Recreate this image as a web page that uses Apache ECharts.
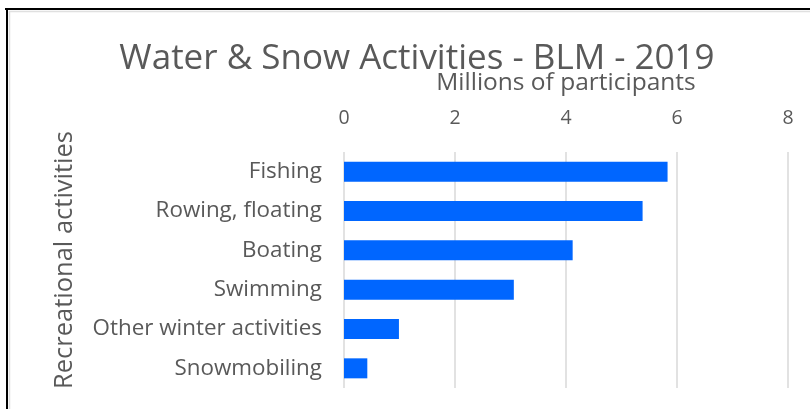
<!DOCTYPE html>
<html>
<head>
<meta charset="utf-8">
<script src="https://cdn.jsdelivr.net/npm/echarts@6/dist/echarts.min.js"></script>
<style>
  html, body { margin: 0; padding: 0; background: #ffffff; }
  #chart { width: 810px; height: 409px; }
</style>
</head>
<body>
<div id="chart"></div>
<script>
const categories = ["Fishing", "Rowing, floating", "Boating", "Swimming", "Other winter activities", "Snowmobiling"];
const participants = [5.83, 5.38, 4.12, 3.06, 0.99, 0.42];
const xTicks = { min: 0, max: 8, interval: 2 };
const titleText = "Water & Snow Activities - BLM - 2019";
const xAxisName = "Millions of participants";
const yAxisName = "Recreational activities";

const FONT = "Open Sans";
const GRAY = "#595959";

const chart = echarts.init(document.getElementById('chart'), null, { renderer: 'canvas' });
chart.setOption({
  backgroundColor: '#ffffff',
  animation: false,
  title: {
    text: titleText,
    left: 412,
    textAlign: 'center',
    top: 37,
    textStyle: { fontFamily: FONT, fontSize: 35, fontWeight: 'normal', color: GRAY }
  },
  graphic: [
    { type: 'line', shape: { x1: 5, y1: 9, x2: 810, y2: 9 }, style: { stroke: '#000000', lineWidth: 2 } },
    { type: 'line', shape: { x1: 7, y1: 8, x2: 7, y2: 409 }, style: { stroke: '#000000', lineWidth: 2 } },
    { type: 'line', shape: { x1: 9, y1: 11.5, x2: 810, y2: 11.5 }, style: { stroke: '#e0e0e0', lineWidth: 1.5 } },
    { type: 'line', shape: { x1: 9.5, y1: 11, x2: 9.5, y2: 409 }, style: { stroke: '#e0e0e0', lineWidth: 1.5 } }
  ],
  grid: { left: 344, right: 22, top: 152, bottom: 21, containLabel: false },
  xAxis: {
    type: 'value',
    position: 'top',
    min: xTicks.min,
    max: xTicks.max,
    interval: xTicks.interval,
    name: xAxisName,
    nameLocation: 'middle',
    nameGap: 56,
    nameTextStyle: { fontFamily: FONT, fontSize: 24.5, color: GRAY },
    axisLine: { show: false },
    axisTick: { show: false },
    axisLabel: { fontFamily: FONT, fontSize: 19.5, color: GRAY, margin: 24 },
    splitLine: { show: true, lineStyle: { color: '#d9d9d9', width: 1.5 } }
  },
  yAxis: {
    type: 'category',
    data: categories,
    inverse: true,
    name: yAxisName,
    nameLocation: 'middle',
    nameGap: 266,
    nameRotate: 90,
    nameTextStyle: { fontFamily: FONT, fontSize: 25.5, color: GRAY, padding: [0, 0, 0, 20] },
    axisLine: { show: false },
    axisTick: { show: false },
    axisLabel: { fontFamily: FONT, fontSize: 22.4, color: GRAY, margin: 22 },
    splitLine: { show: false }
  },
  series: [{
    type: 'bar',
    data: participants,
    barWidth: 20,
    itemStyle: { color: '#0066ff' },
    silent: true
  }]
});
</script>
</body>
</html>
